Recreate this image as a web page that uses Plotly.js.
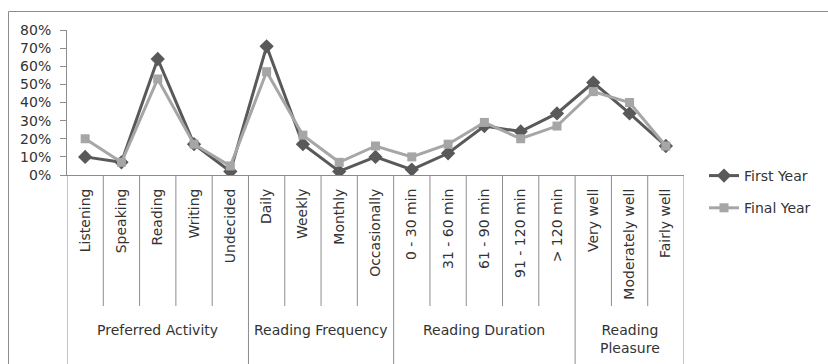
<!DOCTYPE html>
<html>
<head>
<meta charset="utf-8">
<script src="https://cdn.plot.ly/plotly-3.0.1.min.js"></script>
<style>html,body{margin:0;padding:0;background:#fff;}#chart{width:828px;height:364px;}</style>
</head>
<body>
<div id="chart"></div>
<script>
const categories = ["Listening","Speaking","Reading","Writing","Undecided",
  "Daily","Weekly","Monthly","Occasionally",
  "0 - 30 min","31 - 60 min","61 - 90 min","91 - 120 min","> 120 min",
  "Very well","Moderately well","Fairly well"];
const groupNames = ["Preferred Activity","Reading Frequency","Reading Duration","Reading<br>Pleasure"];
const groupSizes = [5,4,5,3];
const firstYear = [0.10,0.07,0.64,0.17,0.02,0.71,0.17,0.02,0.10,0.03,0.12,0.27,0.24,0.34,0.51,0.34,0.16];
const finalYear = [0.20,0.07,0.53,0.17,0.05,0.57,0.22,0.07,0.16,0.10,0.17,0.29,0.20,0.27,0.46,0.40,0.16];
const yTicks = [0,0.1,0.2,0.3,0.4,0.5,0.6,0.7,0.8];

const txt = '#333333', axc = '#8c8c8c';
const fam = 'DejaVu Sans, sans-serif';
const font = {family:fam, size:14, color:txt};

const traces = [
  {x:categories, y:firstYear, name:'First Year', type:'scatter', mode:'lines+markers',
   legendgroup:'a', line:{color:'#595959', width:3},
   marker:{symbol:'diamond', size:11, color:'#595959'}},
  {x:categories, y:finalYear, name:'Final Year', type:'scatter', mode:'lines+markers',
   legendgroup:'b', line:{color:'#a6a6a6', width:3},
   marker:{symbol:'square', size:9, color:'#a6a6a6'}}
];

const shapes = [];
const annotations = [];
const plotH = 145;
const tickY = -(306-175)/plotH;
const divY = -(372-175)/plotH;
let start = 0;
const groupBounds = [-0.5];
groupSizes.forEach((n,g)=>{
  for (let k=1;k<n;k++){
    const b = start + k - 0.5;
    shapes.push({type:'line', xref:'x', yref:'paper', x0:b, x1:b, y0:0, y1:tickY, line:{color:axc,width:1}});
  }
  const end = start + n - 1;
  groupBounds.push(end + 0.5);
  annotations.push({x:(start+end)/2, y:-(320-175)/plotH, xref:'x', yref:'paper', text:groupNames[g],
    showarrow:false, xanchor:'center', yanchor:'top', font:{family:fam,size:14,color:txt}});
  start += n;
});
groupBounds.forEach(b=>{
  shapes.push({type:'line', xref:'x', yref:'paper', x0:b, x1:b, y0:0, y1:divY, line:{color:axc,width:1}});
});
// outer chart border
shapes.push({type:'rect', xref:'paper', yref:'paper', x0:-(67-8.5)/617, x1:1.3, y0:(175-11.5)/plotH, y1:-2, line:{color:axc,width:1}, fillcolor:'rgba(0,0,0,0)', layer:'below'});

const layout = {
  width:828, height:364,
  margin:{l:67, r:144, t:30, b:189},
  paper_bgcolor:'#fff', plot_bgcolor:'#fff',
  font:font,
  showlegend:true,
  legend:{x:(704-67)/617, y:-(160-175)/plotH, xanchor:'left', yanchor:'top',
    font:{family:fam,size:14,color:txt}, tracegroupgap:11, bgcolor:'rgba(0,0,0,0)'},
  xaxis:{type:'category', showline:true, linecolor:axc, linewidth:1, ticks:'', showgrid:false,
    tickangle:-90, tickfont:{family:fam,size:14,color:txt}, range:[-0.5,16.5], ticklabelstandoff:7},
  yaxis:{range:[0,0.8], tickvals:yTicks, tickformat:'.0%', showline:true, linecolor:axc, linewidth:1,
    ticks:'outside', ticklen:6, tickcolor:axc, showgrid:false, zeroline:false,
    tickfont:{family:fam,size:14,color:txt}, ticklabelstandoff:6},
  shapes:shapes,
  annotations:annotations
};
Plotly.newPlot('chart', traces, layout, {displayModeBar:false, staticPlot:true});
</script>
</body>
</html>
